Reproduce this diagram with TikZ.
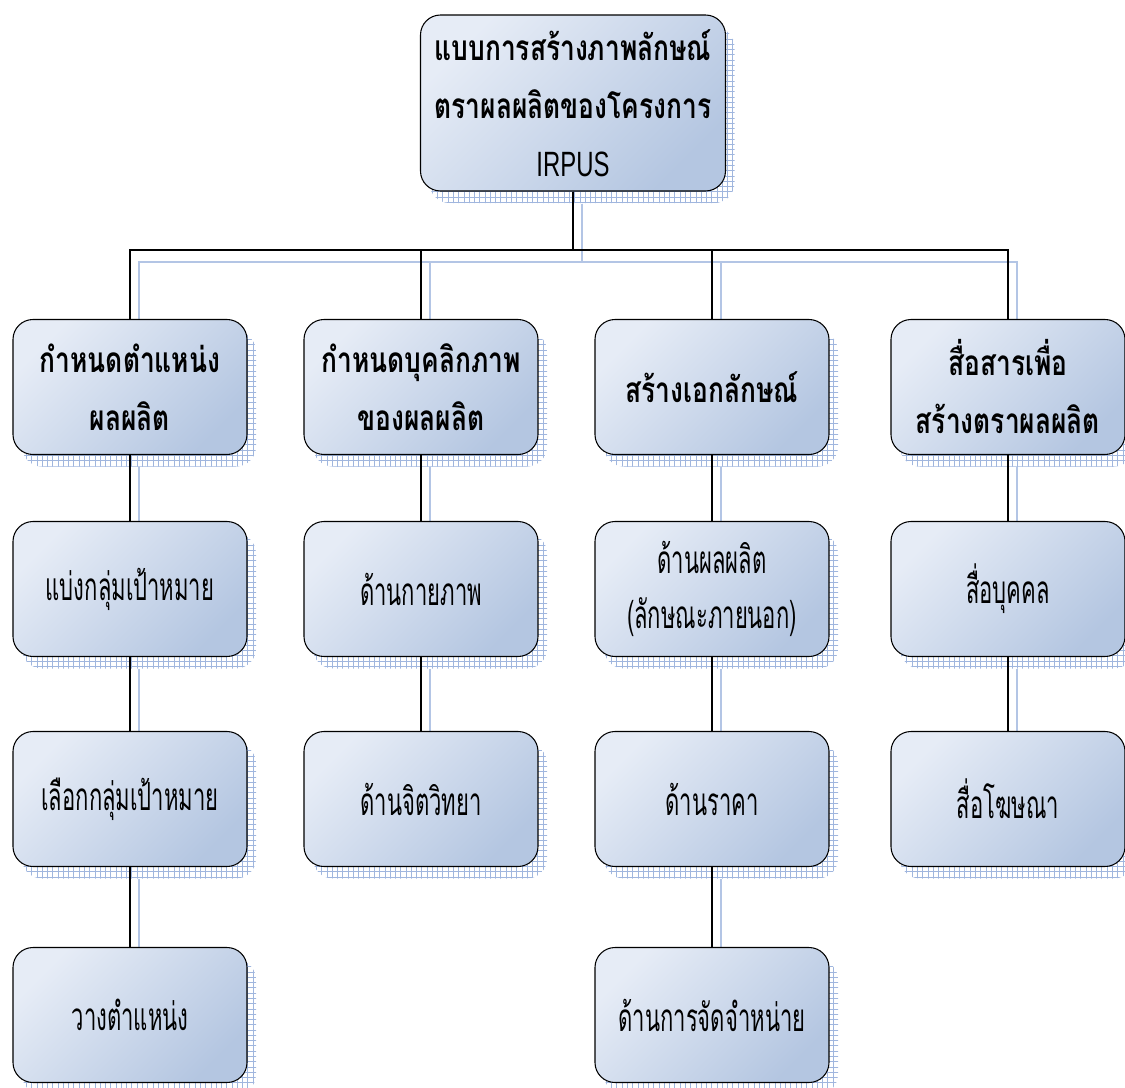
\documentclass[tikz,border=0pt]{standalone}
\usepackage{fontspec}
\setmainfont{Liberation Sans}
\newfontfamily\thaifont[Script=Thai,FakeStretch=0.75]{Loma}
\newfontfamily\thaithin[Script=Thai,FakeStretch=0.57]{Loma}
\newfontfamily\latinnarrow[FakeStretch=0.68]{Liberation Sans}
\usepackage{tikz}
\usetikzlibrary{shadows,patterns,backgrounds,positioning}
\definecolor{boxlight}{RGB}{230,236,246}
\definecolor{boxdark}{RGB}{180,198,225}
\definecolor{shblue}{RGB}{160,182,222}
\tikzset{
  blk/.style    ={draw=black,line width=0.6pt,rounded corners=4mm,
                  top color=boxlight,bottom color=boxdark,shading angle=45,
                  minimum width=46.8mm,minimum height=27mm,align=center,
                  inner sep=0pt,
                  general shadow={shadow xshift=1.8mm,shadow yshift=-2.4mm,
                                  pattern=grid,pattern color=shblue}},
  head/.style   ={blk,font=\thaifont\bfseries\fontsize{20}{33}\selectfont},
  item/.style   ={blk,font=\thaithin\fontsize{22}{31}\selectfont},
  rootbox/.style={head,minimum width=61mm,minimum height=35.2mm},
  conn/.style   ={draw=black,line width=1.6pt},
  connsh/.style ={draw=shblue!80,line width=1.6pt,
                  transform canvas={xshift=1.8mm,yshift=-2.4mm}},
}

\begin{document}
\begin{tikzpicture}[x=0.2mm,y=-0.2mm]
\useasboundingbox (0,0) rectangle (1125,1088);

%% ---------------- boxes ----------------
%% top box
\node[rootbox] (root) at (573,103)
  {แบบการสร้างภาพลักษณ์\\ตราผลผลิตของโครงการ\\{\latinnarrow\mdseries IRPUS}};

%% first level: the four steps
\node[head] (p1) at ( 130,387) {กำหนดตำแหน่ง\\ผลผลิต};
\node[head] (p2) at ( 421,387) {กำหนดบุคลิกภาพ\\ของผลผลิต};
\node[head] (p3) at ( 712,387) {สร้างเอกลักษณ์};
\node[head] (p4) at (1008,387) {สื่อสารเพื่อ\\สร้างตราผลผลิต};

%% second level
\node[item] (q1) at ( 130,589) {แบ่งกลุ่มเป้าหมาย};
\node[item] (q2) at ( 421,589) {ด้านกายภาพ};
\node[item] (q3) at ( 712,589) {ด้านผลผลิต\\(ลักษณะภายนอก)};
\node[item] (q4) at (1008,589) {สื่อบุคคล};

%% third level
\node[item] (r1) at ( 130,799) {เลือกกลุ่มเป้าหมาย};
\node[item] (r2) at ( 421,799) {ด้านจิตวิทยา};
\node[item] (r3) at ( 712,799) {ด้านราคา};
\node[item] (r4) at (1008,799) {สื่อโฆษณา};

%% fourth level
\node[item] (s1) at ( 130,1015) {วางตำแหน่ง};
\node[item] (s3) at ( 712,1015) {ด้านการจัดจำหน่าย};

\coordinate (bus) at (573,250);

%% ---------------- connectors ----------------
%% shadows of the lines go behind everything
\begin{scope}[on background layer]
  \foreach \v in {p1,p2,p3,p4}{
    \draw[connsh] (root.south) -- (root.south |- bus) -| (\v.north);
  }
  \foreach \u/\v in {p1/q1, q1/r1, r1/s1, p2/q2, q2/r2,
                     p3/q3, q3/r3, r3/s3, p4/q4, q4/r4}{
    \draw[connsh] (\u) -- (\v);
  }
\end{scope}

%% tree from the top box
\foreach \v in {p1,p2,p3,p4}{
  \draw[conn] (root.south) -- (root.south |- bus) -| (\v.north);
}

%% columns
\foreach \u/\v in {p1/q1, q1/r1, r1/s1, p2/q2, q2/r2,
                   p3/q3, q3/r3, r3/s3, p4/q4, q4/r4}{
  \draw[conn] (\u) -- (\v);
}

\end{tikzpicture}
\end{document}
